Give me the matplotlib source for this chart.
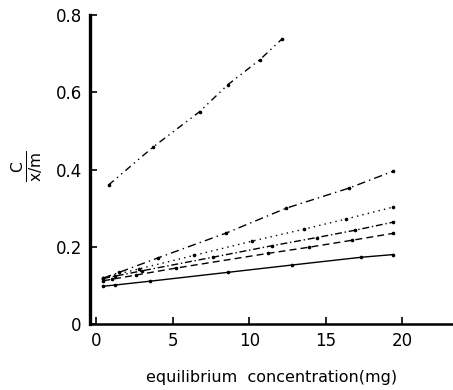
import matplotlib
matplotlib.use("Agg")
import matplotlib.pyplot as plt

# Data
x_top = [0.8, 3.7, 6.75, 8.6, 10.7, 12.1]
y_top = [0.36, 0.458, 0.55, 0.62, 0.685, 0.737]

x_a = [0.45, 1.5, 4.0, 8.5, 12.4, 16.5, 19.4]
y_a = [0.119, 0.134, 0.171, 0.236, 0.30, 0.352, 0.396]

x_b = [0.45, 2.8, 6.4, 10.2, 13.6, 16.3, 19.4]
y_b = [0.12, 0.143, 0.178, 0.215, 0.246, 0.272, 0.303]

x_c = [0.45, 1.2, 3.0, 7.6, 11.5, 14.4, 16.9, 19.4]
y_c = [0.118, 0.124, 0.138, 0.173, 0.203, 0.224, 0.243, 0.264]

x_d = [0.45, 1.0, 2.6, 5.2, 11.2, 13.9, 16.7, 19.4]
y_d = [0.112, 0.116, 0.127, 0.145, 0.183, 0.199, 0.217, 0.235]

x_e = [0.45, 1.2, 3.5, 8.6, 12.8, 17.3, 19.4]
y_e = [0.098, 0.101, 0.111, 0.134, 0.153, 0.173, 0.18]

xticks = [0, 5, 10, 15, 20]
yticks = [0, 0.2, 0.4, 0.6, 0.8]
yticklabels = ["0", "0.2", "0.4", "0.6", "0.8"]

fig = plt.figure(figsize=(4.53, 3.90), dpi=100)
ax = fig.add_axes([0.199, 0.169, 0.801, 0.7923])

kw = dict(color="black", lw=1.0, marker="o", markersize=1.6)
ax.plot(x_top, y_top, linestyle=(0, (5, 3, 1, 3, 1, 3)), **kw)
ax.plot(x_a, y_a, linestyle=(0, (6, 3, 1, 3)), **kw)
ax.plot(x_b, y_b, linestyle=(0, (1, 3)), **kw)
ax.plot(x_c, y_c, linestyle=(0, (5, 2, 1, 2)), **kw)
ax.plot(x_d, y_d, linestyle=(0, (5, 3)), **kw)
ax.plot(x_e, y_e, linestyle="-", **kw)

ax.set_xlim(-0.4, 23.3)
ax.set_ylim(0, 0.8)
ax.set_xticks(xticks)
ax.set_yticks(yticks)
ax.set_yticklabels(yticklabels)
ax.tick_params(direction="in", length=5, width=1.2, labelsize=12, pad=6)

for s in ["top", "right"]:
    ax.spines[s].set_visible(False)
ax.spines["left"].set_linewidth(2.4)
ax.spines["bottom"].set_linewidth(1.8)

ax.set_xlabel("equilibrium  concentration(mg)", fontsize=11.5, labelpad=14)
fig.text(0.06, 0.575, r"$\frac{\mathrm{C}}{\mathrm{x/m}}$", rotation=90,
         fontsize=16, ha="center", va="center")

fig.savefig("out.png", dpi=100)
